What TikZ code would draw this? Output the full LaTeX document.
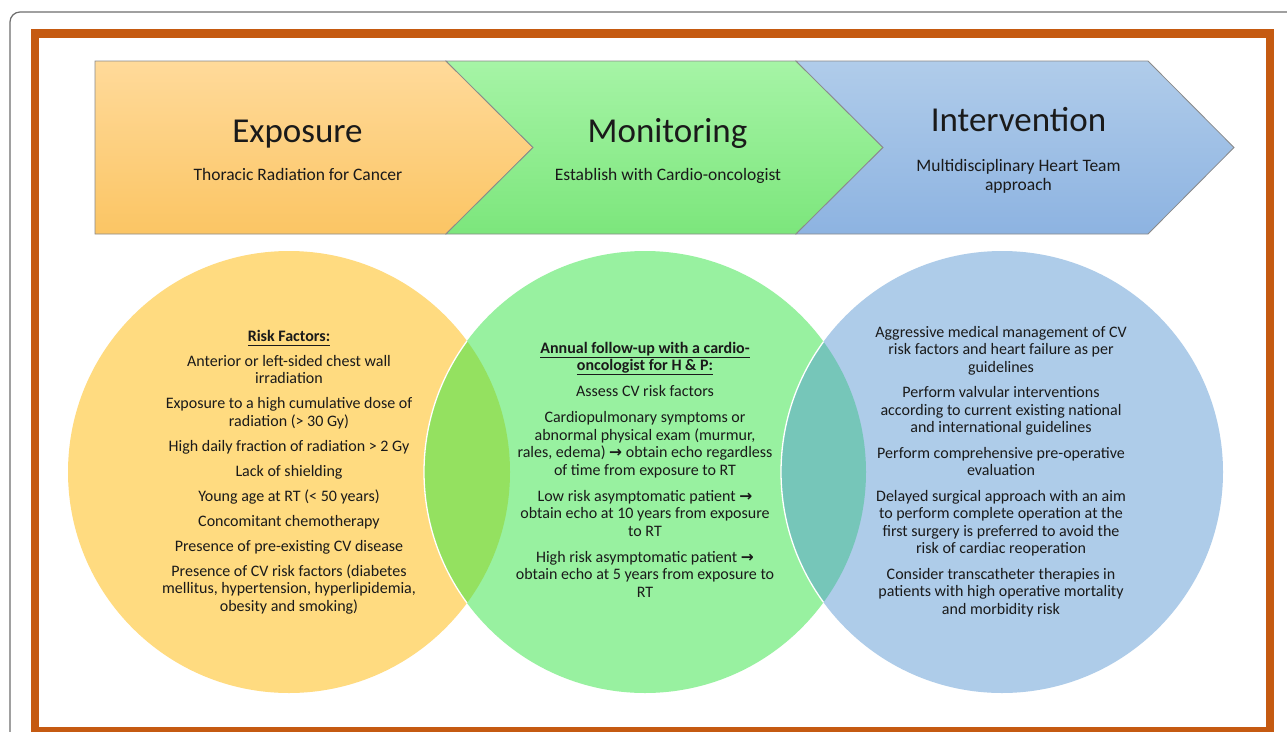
\documentclass[tikz,border=0pt]{standalone}
\usepackage{fontspec}
\setmainfont{Carlito}
\newfontfamily\arrowfont{DejaVu Sans}
\definecolor{frameorange}{HTML}{C55A11}
\definecolor{outerframe}{HTML}{6E6E6E}
\definecolor{chevedge}{HTML}{8A8A8A}
\definecolor{expT}{HTML}{FFDA9A}
\definecolor{expB}{HTML}{FBC564}
\definecolor{monT}{HTML}{A6F4A6}
\definecolor{monB}{HTML}{7CE67C}
\definecolor{intT}{HTML}{B0CCEA}
\definecolor{intB}{HTML}{8DB3E1}
\definecolor{yel}{HTML}{FFDB80}
\definecolor{grn}{HTML}{98F1A0}
\definecolor{blu}{HTML}{AECCE9}
\definecolor{yglens}{HTML}{94E160}
\definecolor{gblens}{HTML}{76C6B9}
\definecolor{ink}{HTML}{1A1A1A}
\newcommand{\rarrow}{{\arrowfont\bfseries\fontsize{15.5}{15.5}\selectfont →}}
\newcommand{\ulbf}[1]{\textbf{\underline{\smash{#1}\vphantom{g}}}}
\tikzset{
  chevron/.style={draw=chevedge, line width=0.8pt},
  titletext/.style={anchor=base, inner sep=0pt, text=ink, font=\fontsize{35}{38}\selectfont},
  subtext/.style={anchor=base, inner sep=0pt, text=ink, align=center, font=\fontsize{17.5}{19}\selectfont},
  circtext/.style={anchor=base, inner sep=0pt, text=ink},
  lensline/.style={draw=white, line width=1.3pt}
}
\begin{document}
\begin{tikzpicture}[x=1pt,y=-1pt]
\useasboundingbox (0,0) rectangle (1287,731);
\clip (0,0) rectangle (1287,731);
\fill[white] (0,0) rectangle (1287,731);
% outer thin frame
\draw[outerframe, line width=1.2pt, rounded corners=10pt] (10,780) -- (10,12) -- (1320,12);
% orange frame
\draw[frameorange, line width=8.5pt] (35,33.5) rectangle (1270,731.5);

% chevrons
\shade[chevron, top color=expT, bottom color=expB]
  (95,61) -- (446,61) -- (533,147.5) -- (446,234) -- (95,234) -- cycle;
\shade[chevron, top color=monT, bottom color=monB]
  (446,61) -- (796,61) -- (883,147.5) -- (796,234) -- (446,234) -- (533,147.5) -- cycle;
\shade[chevron, top color=intT, bottom color=intB]
  (796,61) -- (1148,61) -- (1234,147.5) -- (1148,234) -- (796,234) -- (883,147.5) -- cycle;

\node[titletext] (exptitle) at (297.5,142) {Exposure};
\node[subtext] (expsub) at (298,180) {Thoracic Radiation for Cancer};
\node[titletext] (montitle) at (667.5,142) {Monitoring};
\node[subtext] (monsub) at (668,180) {Establish with Cardio-oncologist};
\node[titletext] (inttitle) at (1018.5,131) {Intervention};
\node[anchor=base, inner sep=0pt, text=ink] (intsub) at (1018.5,171)
  {\parbox[t]{260pt}{\centering\fontsize{17.5}{19}\selectfont Multidisciplinary Heart Team\\ approach}};

% circles
\fill[yel] (289,472) circle[radius=221];
\fill[grn] (645,472) circle[radius=221];
\fill[blu] (1002,472) circle[radius=221];
\begin{scope}
  \clip (289,472) circle[radius=221];
  \fill[yglens] (645,472) circle[radius=221];
\end{scope}
\begin{scope}
  \clip (645,472) circle[radius=221];
  \fill[gblens] (1002,472) circle[radius=221];
\end{scope}
\begin{scope}
  \clip (289,472) circle[radius=221];
  \draw[lensline] (645,472) circle[radius=221];
\end{scope}
\begin{scope}
  \clip (645,472) circle[radius=221];
  \draw[lensline] (1002,472) circle[radius=221];
\end{scope}

% circle texts
\node[circtext] (risk) at (289,341) {\parbox[t]{320pt}{\centering\fontsize{16}{17.5}\selectfont
\ulbf{Risk Factors:}\\[7.5pt]
Anterior or left-sided chest wall\\ irradiation\\[7.5pt]
Exposure to a high cumulative dose of\\ radiation (> 30 Gy)\\[7.5pt]
High daily fraction of radiation > 2 Gy\\[7.5pt]
Lack of shielding\\[7.5pt]
Young age at RT (< 50 years)\\[7.5pt]
Concomitant chemotherapy\\[7.5pt]
Presence of pre-existing CV disease\\[7.5pt]
Presence of CV risk factors (diabetes\\ mellitus, hypertension, hyperlipidemia,\\ obesity and smoking)}};

\node[circtext] (monitor) at (645,353) {\parbox[t]{320pt}{\centering\fontsize{16}{17.5}\selectfont
\ulbf{Annual follow-up with a cardio-}\\
\ulbf{oncologist for H \& P:}\\[8.5pt]
Assess CV risk factors\\[8.5pt]
Cardiopulmonary symptoms or\\ abnormal physical exam (murmur,\\ rales, edema) \rarrow{} obtain echo regardless\\ of time from exposure to RT\\[8.5pt]
Low risk asymptomatic patient \rarrow\\ obtain echo at 10 years from exposure\\ to RT\\[8.5pt]
High risk asymptomatic patient \rarrow\\ obtain echo at 5 years from exposure to\\ RT}};

\node[circtext] (interv) at (1001,337) {\parbox[t]{320pt}{\centering\fontsize{16}{17.5}\selectfont
Aggressive medical management of CV\\ risk factors and heart failure as per\\ guidelines\\[8pt]
Perform valvular interventions\\ according to current existing national\\ and international guidelines\\[8pt]
Perform comprehensive pre-operative\\ evaluation\\[8pt]
Delayed surgical approach with an aim\\ to perform complete operation at the\\ first surgery is preferred to avoid the\\ risk of cardiac reoperation\\[8pt]
Consider transcatheter therapies in\\ patients with high operative mortality\\ and morbidity risk}};
\end{tikzpicture}
\end{document}
